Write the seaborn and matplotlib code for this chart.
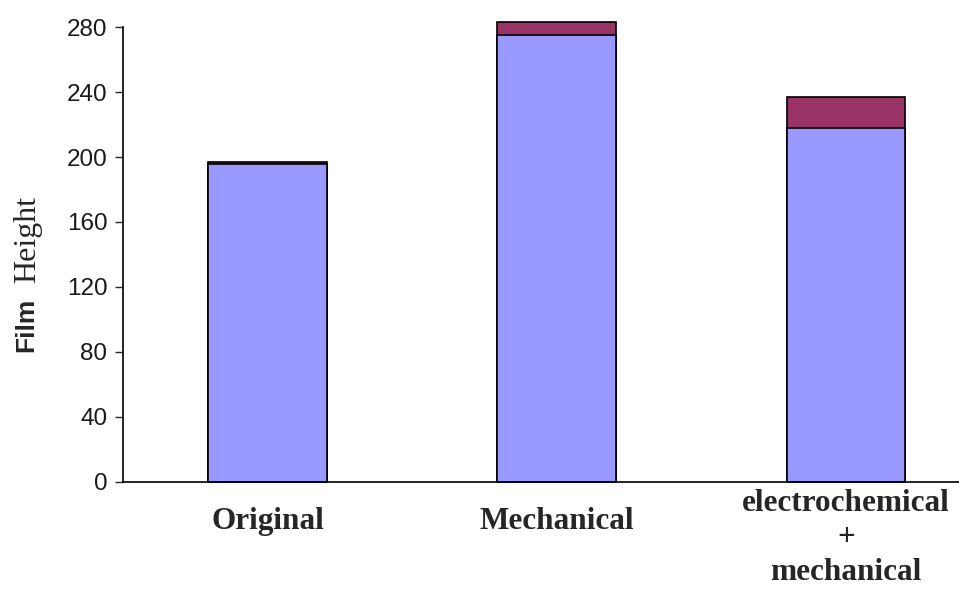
import matplotlib
matplotlib.use("Agg")
import matplotlib.pyplot as plt
import matplotlib.transforms as mtransforms
import seaborn as sns
import pandas as pd

# Film height per treatment: base layer and added top layer
categories = ["Original", "Mechanical", "electrochemical\n+\nmechanical"]
base_height = [196, 275, 218]
top_layer = [1, 8, 19]
y_ticks = [0, 40, 80, 120, 160, 200, 240, 280]

total_height = [b + t for b, t in zip(base_height, top_layer)]
df = pd.DataFrame({"treatment": categories, "base": base_height, "total": total_height})

sns.set_style("white")
fig = plt.figure(figsize=(9.59, 5.89), dpi=100)
ax = fig.add_axes([0.128, 0.182, 0.872, 0.772])

common = dict(data=df, x="treatment", width=0.41, edgecolor="black",
              linewidth=1.2, ax=ax, order=categories)
sns.barplot(y="total", color="#993366", saturation=1, **common)
sns.barplot(y="base", color="#9999FF", saturation=1, **common)
for p in ax.patches:
    p.set_clip_on(False)

ax.set_ylim(0, 280)
ax.set_xlim(-0.5, 2.39)
ax.set_yticks(y_ticks)
ax.set_yticklabels([str(v) for v in y_ticks], family="Liberation Sans",
                   fontsize=17.5, color="#1a1a1a")
ax.set_xticks(range(len(categories)))
ax.set_xticklabels(categories, family="Liberation Serif", fontweight="bold",
                   fontsize=22.5, linespacing=1.26)
ax.tick_params(axis="y", direction="out", length=6, width=1, left=True, pad=5)
ax.tick_params(axis="x", length=0, pad=5)
ax.set_xlabel("")
ax.set_ylabel("")

# single-line category names sit a little lower than the stacked one
shift = mtransforms.ScaledTranslation(0, -18 / 100, fig.dpi_scale_trans)
for lbl in ax.get_xticklabels()[:2]:
    lbl.set_transform(lbl.get_transform() + shift)

for side in ["top", "right"]:
    ax.spines[side].set_visible(False)
for side in ["left", "bottom"]:
    ax.spines[side].set_color("black")
    ax.spines[side].set_linewidth(1.2)

# Two-font vertical axis title
fig.text(0.027, 0.448, "Film", rotation=90, family="Liberation Sans",
         fontweight="bold", fontsize=19, ha="center", va="center")
fig.text(0.029, 0.594, "Height", rotation=90, family="Liberation Serif",
         fontsize=23, ha="center", va="center")

fig.savefig("out.png", dpi=100)
